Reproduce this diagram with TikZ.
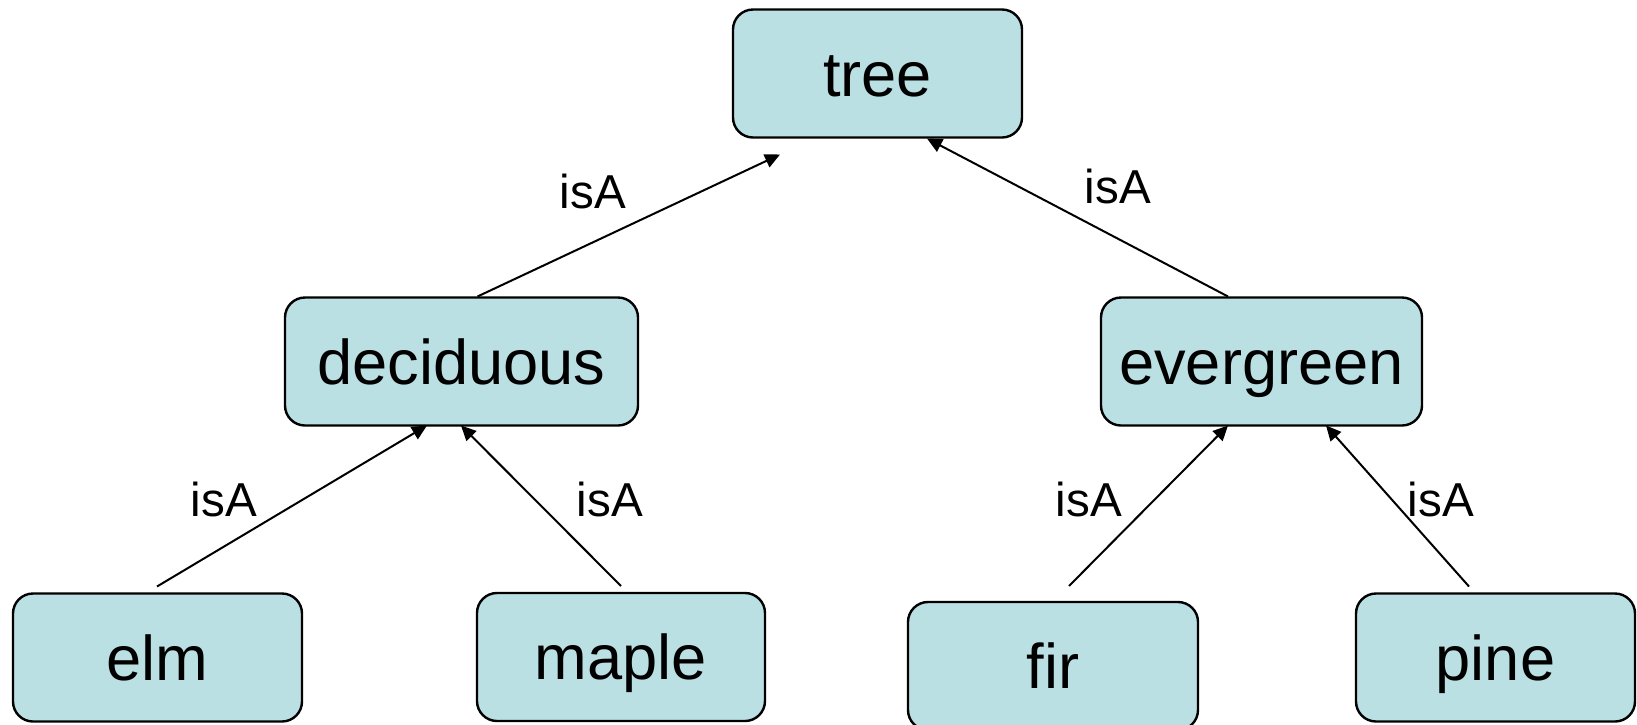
\documentclass[tikz,border=0pt]{standalone}
\usepackage{fontspec}
\setmainfont{Liberation Sans}
\usetikzlibrary{arrows.meta,calc}
\definecolor{boxfill}{RGB}{187,224,228}
\begin{document}
\begin{tikzpicture}[x=0.5pt,y=-0.5pt,
  concept/.style={draw=black,line width=1.2pt,fill=boxfill,rounded corners=10pt,
    minimum height=64pt,inner sep=0pt,outer sep=0pt,
    font=\fontsize{31.6}{36}\selectfont,text height=22.75pt,text depth=0pt},
  rel/.style={font=\fontsize{23.8}{28}\selectfont,inner sep=0pt},
  isa/.style={line width=1pt,-{Triangle[length=7.5pt,width=7pt]}}]
\useasboundingbox (0,0) rectangle (1637,724);
\node[concept,minimum width=144.5pt] (tree) at (877.5,73.5) {tree};
\node[concept,minimum width=176.5pt] (deciduous) at (461.5,361.5) {deciduous};
\node[concept,minimum width=160.5pt] (evergreen) at (1261.5,361.5) {evergreen};
\node[concept,minimum width=144.5pt] (elm) at (157.5,657.5) {elm};
\node[concept,minimum width=144pt] (maple) at (621,657) {maple};
\node[concept,minimum width=145pt] (fir) at (1053,666) {fir};
\node[concept,minimum width=139.5pt] (pine) at (1495.5,657.5) {pine};

\draw[isa] ($(deciduous.north)+(16,-1)$) -- ($(tree.south)+(-97.5,17)$);
\draw[isa] ($(evergreen.north)+(-33.5,-1)$) -- ($(tree.south)+(49.5,1)$);
\draw[isa] ($(elm.north)+(-0.5,-7)$) -- ($(deciduous.south)+(-34.5,0)$);
\draw[isa] ($(maple.north)+(0,-7)$) -- ($(deciduous.south)+(-0.5,0)$);
\draw[isa] ($(fir.north)+(16,-16)$) -- ($(evergreen.south)+(-33.5,0)$);
\draw[isa] ($(pine.north)+(-26.5,-7)$) -- ($(evergreen.south)+(64.5,0)$);

\node[rel] (l1) at (593,191) {isA};
\node[rel] (l2) at (1118,186) {isA};
\node[rel] (l3) at (224,499) {isA};
\node[rel] (l4) at (610,499) {isA};
\node[rel] (l5) at (1089,499) {isA};
\node[rel] (l6) at (1441,499) {isA};
\end{tikzpicture}
\end{document}
